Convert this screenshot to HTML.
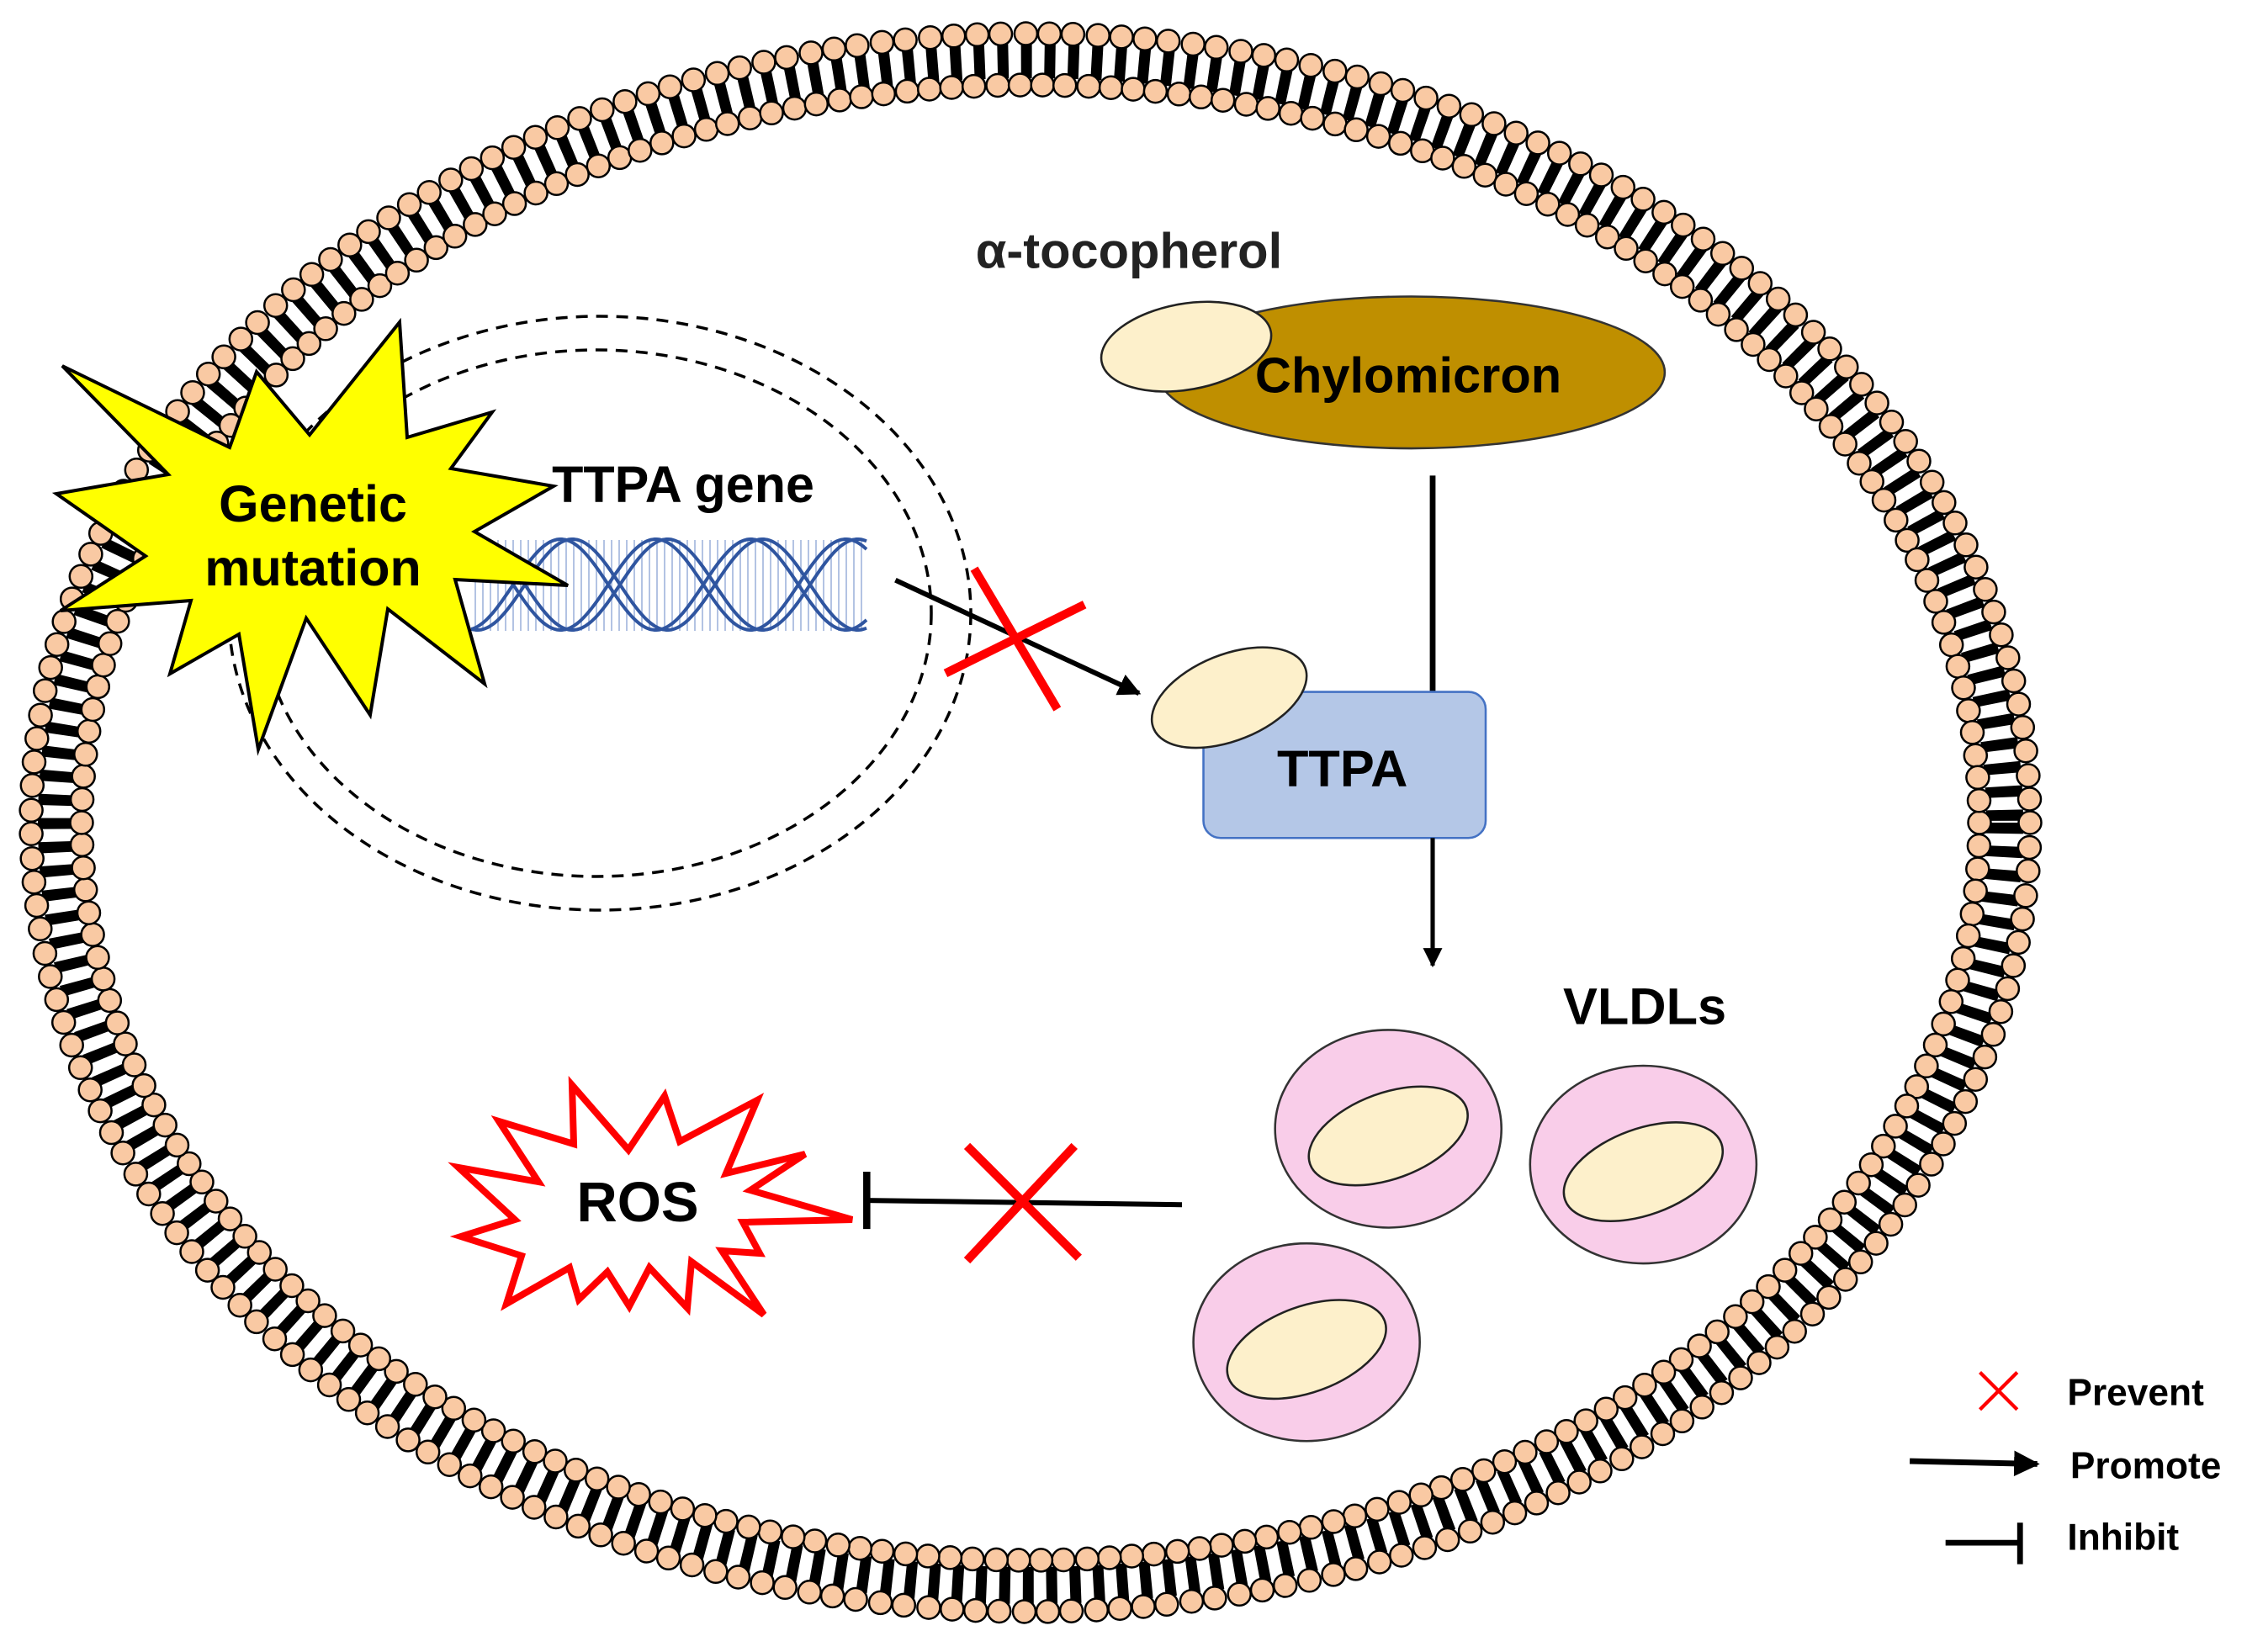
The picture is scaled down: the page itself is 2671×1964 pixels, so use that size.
<!DOCTYPE html>
<html><head><meta charset="utf-8"><style>
html,body{margin:0;padding:0;background:#fff;}
svg{display:block;font-family:"Liberation Sans",Arial,sans-serif;font-weight:bold;}
</style></head><body>
<svg id="s" width="2671" height="1964" viewBox="0 0 2671 1964" xmlns="http://www.w3.org/2000/svg">
<defs>
<marker id="ah" viewBox="0 0 10 10" refX="9" refY="5" markerWidth="4.5" markerHeight="4.5" orient="auto" markerUnits="strokeWidth"><path d="M0,0 L10,5 L0,10 z" fill="#000"/></marker>
</defs>
<g id="mem"></g>
<!-- nucleus -->
<ellipse cx="713" cy="729" rx="441" ry="353" fill="none" stroke="#000" stroke-width="3.5" stroke-dasharray="14 10"/>
<ellipse cx="709" cy="729" rx="398" ry="313" fill="none" stroke="#000" stroke-width="3.5" stroke-dasharray="14 10"/>
<g id="dna"></g>
<polygon fill="#ffff00" stroke="#000" stroke-width="4" stroke-linejoin="miter" points="74,435 273,532 305,442 368,517 475,383 484,520 585,490 536,557 658,578 564,632 675,696 541,689 576,813 461,724 440,850 364,735 307,891 284,754 202,801 227,714 72,726 173,661 67,587 200,564"/>
<text x="372" y="620" font-size="61" text-anchor="middle">Genetic</text>
<text x="372" y="696" font-size="61" text-anchor="middle">mutation</text>
<text x="812" y="597" font-size="61" text-anchor="middle">TTPA gene</text>
<!-- ROS -->
<polygon fill="#fff" stroke="#ff0000" stroke-width="8" points="680,1290 747,1367 790,1303 808,1357 900,1308 863,1395 957,1372 892,1415 1013,1450 883,1453 903,1490 858,1487 908,1563 822,1500 817,1555 772,1507 748,1553 722,1512 688,1545 677,1507 602,1550 620,1493 548,1470 612,1450 545,1388 640,1405 593,1333 682,1360"/>
<text x="758" y="1452" font-size="67" text-anchor="middle">ROS</text>
<g transform="scale(1.703)">
  <text x="788" y="187" font-size="35" text-anchor="middle" fill="#222">α-tocopherol</text>
  <ellipse cx="985" cy="260" rx="177" ry="53" fill="#bf8f00" stroke="#333" stroke-width="1.5"/>
  <ellipse cx="828" cy="242" rx="60" ry="30" transform="rotate(-10 828 242)" fill="#fdf0cb" stroke="#222" stroke-width="1.5"/>
  <text x="983" y="274" font-size="35" text-anchor="middle">Chylomicron</text>
  <line x1="1000" y1="332" x2="1000" y2="485" stroke="#000" stroke-width="4"/>
  <rect x="840" y="483" width="197" height="102" rx="12" fill="#b4c7e7" stroke="#4472c4" stroke-width="1.5"/>
  <ellipse cx="858" cy="487" rx="57" ry="30" transform="rotate(-22 858 487)" fill="#fdf0cb" stroke="#222" stroke-width="1.5"/>
  <text x="937" y="549" font-size="36" text-anchor="middle">TTPA</text>
  <line x1="1000" y1="585" x2="1000" y2="674" stroke="#000" stroke-width="3" marker-end="url(#ah)"/>
  <line x1="625" y1="405" x2="795" y2="484" stroke="#000" stroke-width="3.5" marker-end="url(#ah)"/>
  <line x1="680" y1="397" x2="738" y2="495" stroke="#ff0000" stroke-width="6"/>
  <line x1="660" y1="470" x2="757" y2="422" stroke="#ff0000" stroke-width="6"/>
  <text x="1148" y="715" font-size="36" text-anchor="middle">VLDLs</text>
  <g fill="#f9cde9" stroke="#333" stroke-width="1.5">
    <ellipse cx="969" cy="788" rx="79" ry="69"/>
    <ellipse cx="1147" cy="813" rx="79" ry="69"/>
    <ellipse cx="912" cy="937" rx="79" ry="69"/>
  </g>
  <g fill="#fdf0cb" stroke="#222" stroke-width="1.5">
    <ellipse cx="969" cy="793" rx="58" ry="30" transform="rotate(-20 969 793)"/>
    <ellipse cx="1147" cy="818" rx="58" ry="30" transform="rotate(-20 1147 818)"/>
    <ellipse cx="912" cy="942" rx="58" ry="30" transform="rotate(-20 912 942)"/>
  </g>
  <line x1="825" y1="841" x2="605" y2="838" stroke="#000" stroke-width="3.5"/>
  <line x1="605" y1="818" x2="605" y2="858" stroke="#000" stroke-width="5"/>
  <line x1="675" y1="800" x2="753" y2="878" stroke="#ff0000" stroke-width="6"/>
  <line x1="675" y1="880" x2="750" y2="800" stroke="#ff0000" stroke-width="6"/>
  <!-- legend -->
  <line x1="1382" y1="958" x2="1408" y2="984" stroke="#ff0000" stroke-width="2.5"/>
  <line x1="1382" y1="984" x2="1408" y2="958" stroke="#ff0000" stroke-width="2.5"/>
  <text x="1443" y="981" font-size="26">Prevent</text>
  <line x1="1333" y1="1020" x2="1422" y2="1022" stroke="#000" stroke-width="4" marker-end="url(#ah)"/>
  <text x="1445" y="1032" font-size="26">Promote</text>
  <line x1="1358" y1="1077" x2="1410" y2="1077" stroke="#000" stroke-width="4"/>
  <line x1="1410" y1="1063" x2="1410" y2="1092" stroke="#000" stroke-width="4"/>
  <text x="1443" y="1082" font-size="26">Inhibit</text>
</g>
</svg>
<script>
(function(){
var NS="http://www.w3.org/2000/svg";
var mem=document.getElementById("mem");
var cx=1225,cy=978;
function ring(rx,ry,sp){
  var N=4000,pts=[],L=0,prev=null;
  for(var i=0;i<=N;i++){var t=i/N*2*Math.PI;var p=[cx+rx*Math.cos(t),cy+ry*Math.sin(t)];if(prev)L+=Math.hypot(p[0]-prev[0],p[1]-prev[1]);pts.push([p[0],p[1],L]);prev=p;}
  var n=Math.round(L/sp),step=L/n,k=0,out=[];
  for(var j=0;j<n;j++){var d=j*step;while(pts[k][2]<d)k++;out.push(pts[k]);}
  return out;
}
var tail=document.createElementNS(NS,"ellipse");
tail.setAttribute("cx",cx);tail.setAttribute("cy",cy);tail.setAttribute("rx",1158);tail.setAttribute("ry",907);
tail.setAttribute("fill","none");tail.setAttribute("stroke","#000");tail.setAttribute("stroke-width","44");tail.setAttribute("stroke-dasharray","13 15");
mem.appendChild(tail);
var h="";
[[1188,938,28.5],[1128,877,27]].forEach(function(a){
  ring(a[0],a[1],a[2]).forEach(function(p){h+='<circle cx="'+p[0].toFixed(1)+'" cy="'+p[1].toFixed(1)+'" r="13.5"/>';});
});
var g=document.createElementNS(NS,"g");g.setAttribute("fill","#f9c9a3");g.setAttribute("stroke","#000");g.setAttribute("stroke-width","2.5");
g.innerHTML=h;mem.appendChild(g);
// DNA
var dna=document.getElementById("dna"),s="";
for(var x=565;x<=1030;x+=9){s+='<line x1="'+x+'" y1="642" x2="'+x+'" y2="750" stroke="#b3c3e3" stroke-width="2"/>';}
function strand(ph,off){var d="";for(var x=560;x<=1030;x+=2){var y=695+54*Math.sin(2*Math.PI*(x-737+off)/226+ph);d+=(x==560?"M":"L")+x+","+y.toFixed(1);}return '<path d="'+d+'" fill="none" stroke="#2f55a0" stroke-width="4"/>';}
s+=strand(0,0)+strand(0,14)+strand(Math.PI,0)+strand(Math.PI,14);
dna.innerHTML=s;
})();
</script>
</body></html>
